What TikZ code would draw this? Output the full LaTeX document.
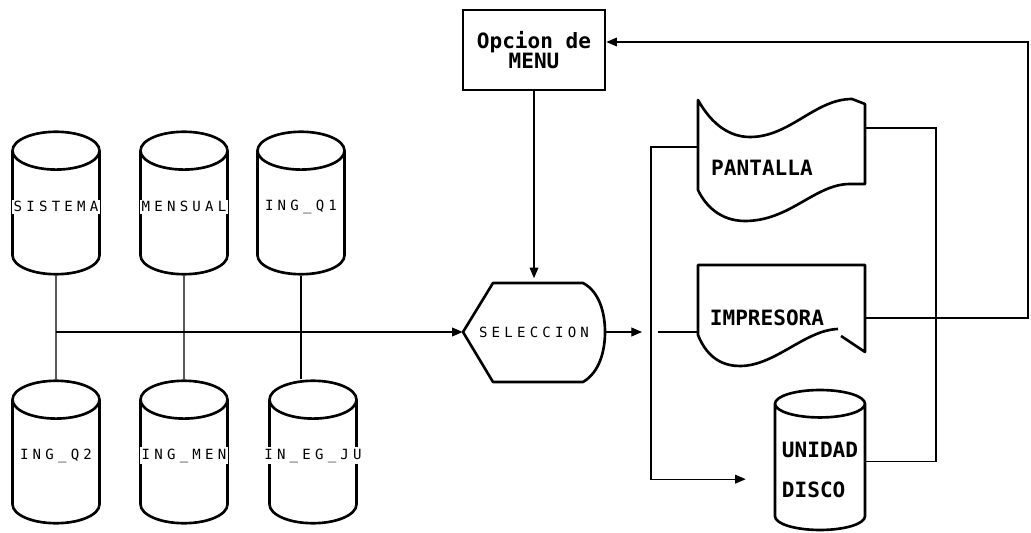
\documentclass[tikz,border=0pt]{standalone}
\usepackage{fontspec}
\setmonofont{DejaVu Sans Mono}
\newfontfamily\dotfont[LetterSpace=30]{DejaVu Sans Mono}
\usetikzlibrary{arrows.meta, shapes.geometric, calc}

\tikzset{
  shp/.style={draw, line width=1.5pt, line join=round},
  store/.style={
    cylinder, shape border rotate=90, aspect=0.44,
    draw, line width=1.5pt, anchor=shape center,
    minimum width=1.74cm, minimum height=2.85cm, inner sep=0.86cm,
    label={[fill=white, inner sep=1pt, yshift=9pt,
            font=\dotfont\fontsize{8}{8}\selectfont]center:#1}
  },
  bigtxt/.style={font=\ttfamily\bfseries\fontsize{12}{11.5}\selectfont},
  menubox/.style={
    rectangle, draw, line width=1.6pt,
    minimum width=2.84cm, minimum height=1.6cm,
    align=center, bigtxt
  },
  flow/.style={line width=0.6pt},
  arr/.style={-{Triangle[length=6pt,width=5pt]}, line width=0.6pt}
}

\begin{document}
\begin{tikzpicture}[x=0.02cm, y=-0.02cm]
  \useasboundingbox (0,0) rectangle (1031,533);

  % Data files
  \node[store=SISTEMA]    (sistema) at (56,203)  {};
  \node[store=MENSUAL]    (mensual) at (184,203) {};
  \node[store=ING\_Q1]    (ingqa)   at (301,203) {};
  \node[store=ING\_Q2]    (ingqb)   at (56,452)  {};
  \node[store=ING\_MEN]   (ingmen)  at (184,452) {};
  \node[store=IN\_EG\_JU] (inegju)  at (313,452) {};

  % Menu and selection
  \node[menubox] (menu) at (534,50) {Opcion de\\MENU};
  \node[minimum width=2.84cm, minimum height=2cm, inner sep=0pt,
        font=\dotfont\fontsize{8}{8}\selectfont] (sel) at (534,332) {SELECCION};
  \draw[shp, shift={(sel.center)}]
    (-71,0) -- (-41,-49) -- (49,-49)
    .. controls (66,-40) and (71,-18) .. (71,0)
    .. controls (71,18) and (66,40) .. (49,50)
    -- (-41,50) -- cycle;

  % Outputs
  \node[bigtxt] (pant) at (762,168) {PANTALLA};
  \draw[shp, shift={(pant.center)}]
    (-64,-68) .. controls (-50,-43) and (-32,-31) .. (-12,-31)
    .. controls (28,-31) and (53,-69) .. (90,-69)
    -- (103,-64) -- (103,16) -- (88,16)
    .. controls (53,16) and (28,53) .. (-17,53)
    .. controls (-42,53) and (-57,37) .. (-64,22) -- cycle;

  \node[bigtxt] (impr) at (767,318) {IMPRESORA};
  \draw[shp, shift={(impr.center)}]
    (71,11) .. controls (38,12) and (8,48) .. (-27,48)
    .. controls (-42,48) and (-59,42) .. (-69,17)
    -- (-69,-53) -- (98,-53) -- (98,34) -- (74,18);

  \node[cylinder, shape border rotate=90, aspect=0.33, draw, line width=1.5pt,
        minimum width=1.8cm, minimum height=2.8cm, inner sep=2pt,
        anchor=shape center, align=left, bigtxt] (disco) at (820,460)
        {UNIDAD\\[11pt]DISCO};

  % Connectors
  \draw[flow] (sistema.south) -- (ingqb.north);
  \draw[flow] (mensual.south) -- (ingmen.north);
  \draw[flow] (ingqa.south) -- (ingqa.south |- inegju.north);
  \draw[arr] (sistema.south |- sel.west) -- (sel.west);
  \draw[arr, shorten >=2pt] (menu.south) -- (sel.north);

  \coordinate (bus) at ($(pant)+(-111,-21)$);
  \draw[arr] (sel.east) -- ($(bus |- sel.east)+(-9,0)$);
  \draw[arr] ($(pant)+(-64,-21)$) -- (bus) |- ($(disco.west)+(-28,9)$);
  \draw[flow] ($(bus |- sel.east)+(7,0)$) -- ($(impr)+(-69,14)$);
  \draw[flow] ($(pant)+(103,-40)$) -- ++(71,0) |- ($(disco.east)+(0,-9)$);
  \draw[arr] ($(impr)+(98,0)$) -- ++(163,0) |- ($(menu.east)+(0,-8)$);
\end{tikzpicture}
\end{document}
